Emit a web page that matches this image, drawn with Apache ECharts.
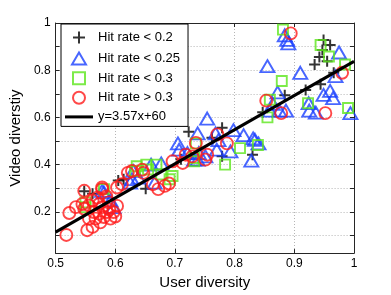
<!DOCTYPE html>
<html>
<head>
<meta charset="utf-8">
<script src="https://cdn.jsdelivr.net/npm/echarts@6/dist/echarts.min.js"></script>
<style>html,body{margin:0;padding:0;background:#fff}#c{width:391px;height:295px}</style>
</head>
<body>
<div id="c"></div>
<script>
var xTicks = [0.5, 0.6, 0.7, 0.8, 0.9, 1];
var yLabelTicks = [0.2, 0.4, 0.6, 0.8, 1];
var yGridTicks = [0.1, 0.2, 0.3, 0.4, 0.5, 0.6, 0.7, 0.8, 0.9, 1];
var seriesNames = ['Hit rate < 0.2', 'Hit rate < 0.25', 'Hit rate < 0.3', 'Hit rate > 0.3', 'y=3.57x+60'];

var hit020 = [[0.548,0.287],[0.562,0.276],[0.605,0.333],[0.614,0.338],[0.651,0.298],[0.710,0.423],[0.723,0.539],[0.762,0.514],[0.779,0.556],[0.779,0.435],[0.830,0.442],[0.847,0.622],[0.884,0.694],[0.919,0.716],[0.944,0.740],[0.934,0.824],[0.942,0.856],[0.955,0.838],[0.947,0.886],[0.949,0.928],[0.960,0.907],[0.966,0.789]];

var hit025 = [[0.884,0.948],[0.888,0.928],[0.890,0.914],[0.855,0.817],[0.910,0.789],[0.975,0.875],[0.969,0.775],[0.872,0.706],[0.864,0.657],[0.859,0.629],[0.875,0.629],[0.886,0.629],[0.924,0.660],[0.925,0.629],[0.936,0.620],[0.949,0.695],[0.960,0.712],[0.965,0.682],[0.994,0.618],[0.831,0.511],[0.840,0.490],[0.754,0.595],[0.738,0.532],[0.768,0.532],[0.773,0.504],[0.798,0.546],[0.815,0.525],[0.834,0.505],[0.770,0.463],[0.793,0.456],[0.828,0.417],[0.751,0.435],[0.740,0.449],[0.738,0.421],[0.705,0.490],[0.707,0.463],[0.721,0.449],[0.732,0.421],[0.677,0.405],[0.660,0.400],[0.628,0.338],[0.639,0.345],[0.666,0.324],[0.625,0.324],[0.581,0.282],[0.597,0.220],[0.592,0.248],[0.578,0.289],[0.630,0.373]];

var hit030 = [[0.881,0.972],[0.944,0.907],[0.958,0.858],[0.985,0.824],[0.879,0.754],[0.859,0.675],[0.855,0.600],[0.990,0.640],[0.923,0.660],[0.839,0.483],[0.735,0.490],[0.809,0.470],[0.784,0.400],[0.636,0.393],[0.652,0.400],[0.669,0.400],[0.677,0.358],[0.696,0.352],[0.732,0.428],[0.550,0.240],[0.550,0.220],[0.581,0.296],[0.633,0.373],[0.655,0.379],[0.691,0.338],[0.732,0.414]];

var hitAbove030 = [[0.894,0.956],[0.980,0.789],[0.952,0.618],[0.853,0.671],[0.878,0.618],[0.735,0.492],[0.771,0.528],[0.787,0.490],[0.751,0.421],[0.754,0.442],[0.718,0.442],[0.696,0.414],[0.713,0.407],[0.729,0.435],[0.628,0.373],[0.645,0.378],[0.647,0.365],[0.663,0.317],[0.672,0.296],[0.683,0.310],[0.690,0.320],[0.611,0.317],[0.621,0.365],[0.518,0.102],[0.523,0.195],[0.534,0.220],[0.545,0.233],[0.553,0.122],[0.562,0.136],[0.556,0.171],[0.564,0.199],[0.567,0.171],[0.573,0.192],[0.578,0.220],[0.581,0.178],[0.586,0.199],[0.592,0.171],[0.597,0.199],[0.578,0.296],[0.562,0.248],[0.556,0.227],[0.548,0.213],[0.573,0.233],[0.589,0.240],[0.548,0.289],[0.578,0.303],[0.603,0.303],[0.575,0.155],[0.600,0.180],[0.590,0.210],[0.603,0.225],[0.570,0.260],[0.585,0.265]];

var fitLine = [[0.5,0.114],[1.0,0.8375]];

var FONT = 'Liberation Sans, Arial, Helvetica, sans-serif';
var AX = '#262626';
var PLUS = 'path://M0,5L10,5M5,0L5,10';
var TRI = 'path://M7,0L14,12L0,12Z';
var SQ = 'path://M0,0L10,0L10,10L0,10Z';
var BAR = 'path://M0,0L28,0L28,3L0,3Z';
var gridLine = {show:true, lineStyle:{color:'#b5b5b5', width:1, type:[1,2]}};
function fmt(v){ return Math.abs(v-1)<1e-9 ? '1' : (Math.round(v*10)/10).toFixed(1); }

var chart = echarts.init(document.getElementById('c'), null, {renderer:'canvas'});
chart.setOption({
  animation:false,
  backgroundColor:'#fff',
  textStyle:{fontFamily:FONT},
  grid:{left:51, right:37, top:23, bottom:37.5, containLabel:false},
  legend:{
    orient:'vertical', left:61, top:24,
    data: [
      {name:seriesNames[0], icon:PLUS},
      {name:seriesNames[1], icon:TRI},
      {name:seriesNames[2], icon:SQ},
      {name:seriesNames[3], icon:'circle'},
      {name:seriesNames[4], icon:BAR}
    ],
    symbolKeepAspect:true,
    backgroundColor:'#fff', borderColor:'#000', borderWidth:1,
    padding:[5,8,3,4], itemWidth:28, itemHeight:12, itemGap:5.6,
    textStyle:{fontFamily:FONT, fontSize:13, color:'#000'},
    selectedMode:false
  },
  xAxis:[{
    type:'value', min:0.5, max:1, interval:0.1, position:'bottom',
    name:'User diversity', nameLocation:'middle', nameGap:19,
    nameTextStyle:{fontFamily:FONT, fontSize:15, color:'#000'},
    axisLine:{show:true, lineStyle:{color:AX, width:1}},
    axisTick:{show:true, inside:true, length:4, lineStyle:{color:AX}},
    axisLabel:{margin:5, fontFamily:FONT, fontSize:12, color:'#000', formatter:fmt,
      customValues: xTicks},
    splitLine:gridLine
  },{
    type:'value', min:0.5, max:1, interval:0.1, position:'top',
    axisLine:{show:true, lineStyle:{color:AX, width:1}},
    axisTick:{show:true, inside:true, length:4, lineStyle:{color:AX}},
    axisLabel:{show:false}, splitLine:{show:false}
  }],
  yAxis:[{
    type:'value', min:0.025, max:1, position:'left',
    name:'Video diverstiy', nameLocation:'middle', nameGap:26, nameRotate:90,
    nameTextStyle:{fontFamily:FONT, fontSize:15, color:'#000'},
    axisLine:{show:true, lineStyle:{color:AX, width:1}},
    axisTick:{show:true, inside:true, length:4, lineStyle:{color:AX}, customValues:yGridTicks},
    axisLabel:{margin:5, fontFamily:FONT, fontSize:12, color:'#000', formatter:fmt, customValues:yLabelTicks},
    splitLine:gridLine
  },{
    type:'value', min:0.025, max:1, position:'right',
    axisLine:{show:true, lineStyle:{color:AX, width:1}},
    axisTick:{show:true, inside:true, length:4, lineStyle:{color:AX}, customValues:yGridTicks},
    axisLabel:{show:false}, splitLine:{show:false}
  }],
  series:[
    {name:seriesNames[0], type:'scatter', data:hit020, symbol:PLUS, symbolSize:11,
      itemStyle:{color:'none', borderColor:'#000', borderWidth:2}, emphasis:{disabled:true}, z:2},
    {name:seriesNames[1], type:'scatter', data:hit025, symbol:TRI, symbolSize:[14,12], symbolKeepAspect:false,
      itemStyle:{color:'rgba(0,0,0,0)', borderColor:'#1a40ff', borderWidth:1.9}, emphasis:{disabled:true}, z:2},
    {name:seriesNames[2], type:'scatter', data:hit030, symbol:SQ, symbolSize:10,
      itemStyle:{color:'rgba(0,0,0,0)', borderColor:'#5ce61c', borderWidth:1.9}, emphasis:{disabled:true}, z:2},
    {name:seriesNames[3], type:'scatter', data:hitAbove030, symbol:'circle', symbolSize:12,
      itemStyle:{color:'rgba(0,0,0,0)', borderColor:'#ff1a1a', borderWidth:1.9}, emphasis:{disabled:true}, z:2},
    {name:seriesNames[4], type:'line', data:fitLine, symbol:'none', showSymbol:false,
      lineStyle:{color:'#000', width:3}, itemStyle:{color:'#000'}, emphasis:{disabled:true}, z:3}
  ]
});
</script>
</body>
</html>
